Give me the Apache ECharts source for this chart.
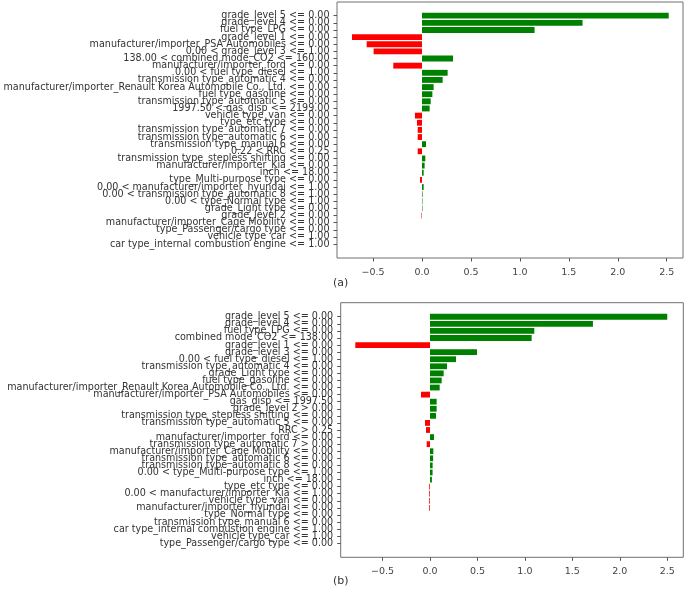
<!DOCTYPE html>
<html>
<head>
<meta charset="utf-8">
<script src="https://cdn.jsdelivr.net/npm/echarts@6/dist/echarts.min.js"></script>
<style>
html,body{margin:0;padding:0;background:#fff;}
#chart{width:685px;height:589px;}
</style>
</head>
<body>
<div id="chart"></div>
<script>
const labelsA = [
  "grade_level 5 <= 0.00",
  "grade_level 4 <= 0.00",
  "fuel type_LPG <= 0.00",
  "grade_level 1 <= 0.00",
  "manufacturer/importer_PSA Automobiles <= 0.00",
  "0.00 < grade_level 3 <= 1.00",
  "138.00 < combined mode_CO2 <= 160.00",
  "manufacturer/importer_ford <= 0.00",
  "0.00 < fuel type_diesel <= 1.00",
  "transmission type_automatic 4 <= 0.00",
  "manufacturer/importer_Renault Korea Automobile Co., Ltd. <= 0.00",
  "fuel type_gasoline <= 0.00",
  "transmission type_automatic 5 <= 0.00",
  "1997.50 < gas_disp <= 2199.00",
  "vehicle type_van <= 0.00",
  "type_etc type <= 0.00",
  "transmission type_automatic 7 <= 0.00",
  "transmission type_automatic 6 <= 0.00",
  "transmission type_manual 6 <= 0.00",
  "0.22 < RRC <= 0.25",
  "transmission type_stepless shifting <= 0.00",
  "manufacturer/importer_Kia <= 0.00",
  "inch <= 18.00",
  "type_Multi-purpose type <= 0.00",
  "0.00 < manufacturer/importer_hyundai <= 1.00",
  "0.00 < transmission type_automatic 8 <= 1.00",
  "0.00 < type_Normal type <= 1.00",
  "grade_Light type <= 0.00",
  "grade_level 2 <= 0.00",
  "manufacturer/importer_Cage Mobility <= 0.00",
  "type_Passenger/cargo type <= 0.00",
  "vehicle type_car <= 1.00",
  "car type_internal combustion engine <= 1.00"
];
const valuesA = [2.52, 1.64, 1.15, -0.715, -0.565, -0.494, 0.317, -0.293, 0.262, 0.211,
  0.119, 0.106, 0.089, 0.078, -0.072, -0.051, -0.044, -0.044, 0.041, -0.044,
  0.034, 0.027, 0.017, -0.020, 0.017, 0.006, 0.005, 0.005, -0.005, 0, 0, 0, 0];

const labelsB = [
  "grade_level 5 <= 0.00",
  "grade_level 4 <= 0.00",
  "fuel type_LPG <= 0.00",
  "combined mode_CO2 <= 138.00",
  "grade_level 1 <= 0.00",
  "grade_level 3 <= 0.00",
  "0.00 < fuel type_diesel <= 1.00",
  "transmission type_automatic 4 <= 0.00",
  "grade_Light type <= 0.00",
  "fuel type_gasoline <= 0.00",
  "manufacturer/importer_Renault Korea Automobile Co., Ltd. <= 0.00",
  "manufacturer/importer_PSA Automobiles <= 0.00",
  "gas_disp <= 1997.50",
  "grade_level 2 > 0.00",
  "transmission type_stepless shifting <= 0.00",
  "transmission type_automatic 5 <= 0.00",
  "RRC > 0.25",
  "manufacturer/importer_ford <= 0.00",
  "transmission type_automatic 7 > 0.00",
  "manufacturer/importer_Cage Mobility <= 0.00",
  "transmission type_automatic 6 <= 0.00",
  "transmission type_automatic 8 <= 0.00",
  "0.00 < type_Multi-purpose type <= 1.00",
  "inch <= 18.00",
  "type_etc type <= 0.00",
  "0.00 < manufacturer/importer_Kia <= 1.00",
  "vehicle type_van <= 0.00",
  "manufacturer/importer_hyundai <= 0.00",
  "type_Normal type <= 0.00",
  "transmission type_manual 6 <= 0.00",
  "car type_internal combustion engine <= 1.00",
  "vehicle type_car <= 1.00",
  "type_Passenger/cargo type <= 0.00"
];
const valuesB = [2.50, 1.717, 1.099, 1.071, -0.787, 0.495, 0.274, 0.179, 0.144, 0.123,
  0.102, -0.095, 0.070, 0.070, 0.063, -0.053, -0.042, 0.042, -0.035, 0.035,
  0.033, 0.028, 0.027, 0.020, -0.008, -0.008, -0.008, -0.008, 0, 0, 0, 0, 0];

const panelLabels = ["(a)", "(b)"];

const FONT = "DejaVu Sans";
const GREEN = "#008000", RED = "#ff0000";

function fmtTick(v) {
  if (Math.abs(v / 0.5 - Math.round(v / 0.5)) > 1e-6) return "";
  return (v < -1e-9 ? "\u2212" : "") + Math.abs(v).toFixed(1);
}

const panels = [
  {frame: {left: 337, top: 2, width: 346, height: 256},
   bars: {top: 12.1, height: 235.6}, xmin: -0.868, xmax: 2.666,
   labels: labelsA, values: valuesA, tag: {x: 333, y: 283}},
  {frame: {left: 340.7, top: 302.7, width: 342.6, height: 254.6},
   bars: {top: 313.2, height: 233.6}, xmin: -0.941, xmax: 2.669,
   labels: labelsB, values: valuesB, tag: {x: 333, y: 581}}
];

const grid = [], xAxis = [], yAxis = [], series = [], graphic = [];
panels.forEach((p, i) => {
  // frame grid
  grid.push({left: p.frame.left, top: p.frame.top, width: p.frame.width, height: p.frame.height,
    show: true, borderColor: "#707070", borderWidth: 1, backgroundColor: "transparent", containLabel: false});
  // bar grid
  grid.push({left: p.frame.left, top: p.bars.top, width: p.frame.width, height: p.bars.height, containLabel: false});
  const gF = 2 * i, gB = 2 * i + 1;
  xAxis.push({type: "value", gridIndex: gF, min: p.xmin, max: p.xmax, splitNumber: 7,
    axisLine: {show: false, onZero: false}, splitLine: {show: false},
    axisTick: {show: true, length: 3.5, lineStyle: {color: "#555"}},
    axisLabel: {show: true, margin: 9.5, fontFamily: FONT, fontSize: 9.5, color: "#444",
      showMinLabel: false, showMaxLabel: false, formatter: fmtTick}});
  xAxis.push({type: "value", gridIndex: gB, min: p.xmin, max: p.xmax, show: false});
  yAxis.push({type: "value", gridIndex: gF, show: false});
  yAxis.push({type: "category", gridIndex: gB, data: p.labels, inverse: true,
    axisLine: {show: false, onZero: false}, splitLine: {show: false},
    axisTick: {show: true, alignWithLabel: true, length: 3.5, lineStyle: {color: "#555"}},
    axisLabel: {margin: 7.5, fontFamily: FONT, fontSize: 9.6, color: "#333", interval: 0}});
  series.push({type: "bar", xAxisIndex: gB, yAxisIndex: gB, data: p.values, barWidth: "82%",
    silent: true, animation: false,
    itemStyle: {color: (d) => d.value >= 0 ? GREEN : RED}});
  graphic.push({type: "text", left: p.tag.x, top: p.tag.y - 5,
    style: {text: panelLabels[i], fontFamily: FONT, fontSize: 11, fill: "#333"}});
});

const chart = echarts.init(document.getElementById("chart"), null, {renderer: "canvas"});
chart.setOption({animation: false, grid, xAxis, yAxis, series, graphic});
</script>
</body>
</html>
